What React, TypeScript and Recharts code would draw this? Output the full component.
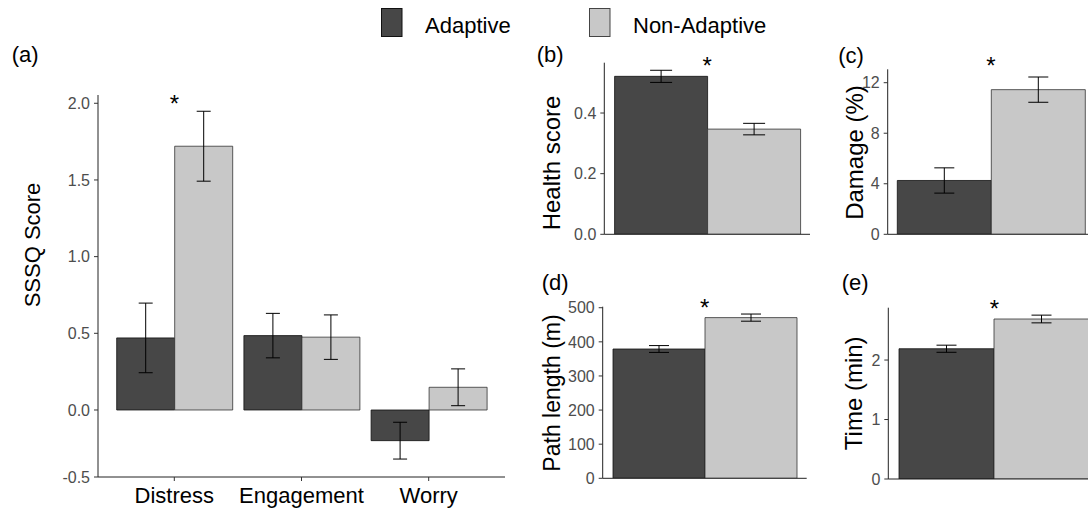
import React from "react";
import { BarChart, Bar, XAxis, YAxis, ErrorBar, ReferenceDot } from "recharts";

const FONT = '"Liberation Sans", Arial, Helvetica, sans-serif';
const DARK = "#474747";
const LIGHT = "#c8c8c8";
const TICK_GREY = "#4d4d4d";

// (a) SSSQ scores
const sssqCategories = ["Distress", "Engagement", "Worry"];
const sssqAdaptive = [0.47, 0.485, -0.2];
const sssqAdaptiveSe = [0.227, 0.145, 0.12];
const sssqNonAdaptive = [1.72, 0.475, 0.148];
const sssqNonAdaptiveSe = [0.228, 0.145, 0.12];
// bottom tick sits on the axis line in the original figure
const sssqTicks = [-0.437, 0, 0.5, 1, 1.5, 2];
const sssqTickLabels = ["-0.5", "0.0", "0.5", "1.0", "1.5", "2.0"];

// (b)-(e) adaptive vs non-adaptive
const healthValues = [0.521, 0.347];
const healthSe = [0.02, 0.019];
const damageValues = [4.26, 11.45];
const damageSe = [1.0, 1.0];
const pathValues = [379, 471];
const pathSe = [10, 10.5];
const timeValues = [2.19, 2.69];
const timeSe = [0.06, 0.065];

const legendItems = [
  { label: "Adaptive", color: DARK },
  { label: "Non-Adaptive", color: LIGHT }
];

type Row = {
  group: string;
  adaptive: number;
  adaptiveSe: number;
  nonAdaptive: number;
  nonAdaptiveSe: number;
};

const sssqData: Row[] = sssqCategories.map((c, i) => ({
  group: c,
  adaptive: sssqAdaptive[i],
  adaptiveSe: sssqAdaptiveSe[i],
  nonAdaptive: sssqNonAdaptive[i],
  nonAdaptiveSe: sssqNonAdaptiveSe[i]
}));

const pair = (v: number[], se: number[]): Row[] => [
  { group: "all", adaptive: v[0], adaptiveSe: se[0], nonAdaptive: v[1], nonAdaptiveSe: se[1] }
];

interface PanelProps {
  data: Row[];
  box: { left: number; top: number; width: number; height: number };
  plot: { left: number; right: number; top: number; bottom: number };
  domain: [number, number];
  ticks: number[];
  format: (v: number) => string;
  title: string;
  titleAt: [number, number];
  titleSize: number;
  star: { group: string; level: number };
  cap: number;
  gap: number;
  pad?: number;
  xTicks?: boolean;
}

function Panel({
  data,
  box,
  plot,
  domain,
  ticks,
  format,
  title,
  titleAt,
  titleSize,
  star,
  cap,
  gap,
  pad = 0,
  xTicks = false
}: PanelProps) {
  const tx = titleAt[0] - box.left;
  const ty = titleAt[1] - box.top;
  return (
    <div style={{ position: "absolute", left: box.left, top: box.top }}>
      <BarChart
        width={box.width}
        height={box.height}
        data={data}
        barGap={0}
        barCategoryGap={gap}
        margin={{
          top: plot.top - box.top,
          right: box.left + box.width - plot.right,
          left: 0,
          bottom: 0
        }}
      >
        <XAxis
          dataKey="group"
          height={box.top + box.height - plot.bottom}
          padding={{ left: pad, right: pad }}
          axisLine={{ stroke: "#222", strokeWidth: 1 }}
          tickLine={xTicks ? { stroke: "#333" } : false}
          tickSize={4}
          tickMargin={6}
          tick={xTicks ? { fontSize: 22, fill: "#000", fontFamily: FONT } : false}
        />
        <YAxis
          type="number"
          width={plot.left - box.left}
          domain={domain}
          ticks={ticks}
          interval={0}
          allowDataOverflow
          tickFormatter={format}
          axisLine={{ stroke: "#222", strokeWidth: 1 }}
          tickLine={{ stroke: "#333" }}
          tickSize={4}
          tickMargin={4}
          tick={{ fontSize: 16, fill: TICK_GREY, fontFamily: FONT }}
          label={{
            content: () => (
              <text
                x={tx}
                y={ty}
                transform={`rotate(-90 ${tx} ${ty})`}
                textAnchor="middle"
                dominantBaseline="central"
                fontSize={titleSize}
                fontFamily={FONT}
                fill="#000"
              >
                {title}
              </text>
            )
          }}
        />
        <Bar
          dataKey="adaptive"
          fill={DARK}
          stroke="#111"
          strokeWidth={0.8}
          isAnimationActive={false}
        >
          <ErrorBar dataKey="adaptiveSe" width={cap} stroke="#000" strokeWidth={1} direction="y" />
        </Bar>
        <Bar
          dataKey="nonAdaptive"
          fill={LIGHT}
          stroke="#333"
          strokeWidth={0.8}
          isAnimationActive={false}
        >
          <ErrorBar dataKey="nonAdaptiveSe" width={cap} stroke="#000" strokeWidth={1} direction="y" />
        </Bar>
        <ReferenceDot
          x={star.group}
          y={star.level}
          r={0}
          fill="none"
          stroke="none"
          ifOverflow="visible"
          label={{
            content: (p: any) => {
              const vb = p.viewBox || { x: 0, y: 0, width: 0, height: 0 };
              return (
                <text
                  x={vb.x + vb.width / 2}
                  y={vb.y + vb.height / 2}
                  dy="0.57em"
                  textAnchor="middle"
                  fontSize={24}
                  fontFamily={FONT}
                  fill="#000"
                >
                  *
                </text>
              );
            }
          }}
        />
      </BarChart>
    </div>
  );
}

const fixed1 = (v: number) => v.toFixed(1);
const plain = (v: number) => String(v);

export default function App() {
  return (
    <div
      style={{
        position: "absolute",
        left: 0,
        top: 0,
        width: 1088,
        height: 509,
        overflow: "hidden",
        background: "#fff",
        fontFamily: FONT
      }}
    >
      <Panel
        data={sssqData}
        box={{ left: 0, top: 60, width: 520, height: 449 }}
        plot={{ left: 98, right: 505, top: 95, bottom: 477 }}
        domain={[-0.437, 2.054]}
        ticks={sssqTicks}
        format={(v) => sssqTickLabels[sssqTicks.indexOf(v)] ?? v.toFixed(1)}
        title="SSSQ Score"
        titleAt={[32, 245]}
        titleSize={22}
        star={{ group: "Distress", level: 2.035 }}
        cap={7}
        gap={6}
        pad={12.7}
        xTicks
      />
      <Panel
        data={pair(healthValues, healthSe)}
        box={{ left: 520, top: 40, width: 300, height: 220 }}
        plot={{ left: 604.3, right: 810, top: 62.7, bottom: 234.3 }}
        domain={[0, 0.566]}
        ticks={[0, 0.2, 0.4]}
        format={fixed1}
        title="Health score"
        titleAt={[551, 163]}
        titleSize={24}
        star={{ group: "all", level: 0.573 }}
        cap={11}
        gap={10.3}
      />
      <Panel
        data={pair(damageValues, damageSe)}
        box={{ left: 820, top: 40, width: 290, height: 220 }}
        plot={{ left: 887.7, right: 1094, top: 69.3, bottom: 234.3 }}
        domain={[0, 13.06]}
        ticks={[0, 4, 8, 12]}
        format={plain}
        title="Damage (%)"
        titleAt={[854, 152.5]}
        titleSize={24}
        star={{ group: "all", level: 13.8 }}
        cap={10}
        gap={9.6}
      />
      <Panel
        data={pair(pathValues, pathSe)}
        box={{ left: 520, top: 260, width: 300, height: 249 }}
        plot={{ left: 602.7, right: 806.7, top: 306.7, bottom: 478.3 }}
        domain={[0, 503]}
        ticks={[0, 100, 200, 300, 400, 500]}
        format={plain}
        title="Path length (m)"
        titleAt={[552, 393]}
        titleSize={23}
        star={{ group: "all", level: 515 }}
        cap={10}
        gap={10.3}
      />
      <Panel
        data={pair(timeValues, timeSe)}
        box={{ left: 820, top: 260, width: 290, height: 249 }}
        plot={{ left: 888.3, right: 1100.3, top: 307.7, bottom: 479 }}
        domain={[0, 2.88]}
        ticks={[0, 1, 2]}
        format={plain}
        title="Time (min)"
        titleAt={[853.3, 393.3]}
        titleSize={24}
        star={{ group: "all", level: 2.96 }}
        cap={10}
        gap={10.7}
      />
      <svg
        width={1088}
        height={509}
        style={{ position: "absolute", left: 0, top: 0, pointerEvents: "none" }}
        fontFamily={FONT}
      >
        {legendItems.map((item, i) => {
          const x = i === 0 ? 381.5 : 589.5;
          return (
            <g key={item.label}>
              <rect x={x} y={8.5} width={20.5} height={28} fill={item.color} stroke={i === 0 ? "#111" : "#444"} strokeWidth={1} />
              <text x={x + 43.5} y={33} fontSize={22} fill="#000">
                {item.label}
              </text>
            </g>
          );
        })}
        <text x={11.7} y={62.4} fontSize={22}>(a)</text>
        <text x={536.7} y={61.5} fontSize={22}>(b)</text>
        <text x={838.3} y={63} fontSize={22}>(c)</text>
        <text x={541.7} y={290} fontSize={22}>(d)</text>
        <text x={841.7} y={290} fontSize={22}>(e)</text>
      </svg>
    </div>
  );
}
